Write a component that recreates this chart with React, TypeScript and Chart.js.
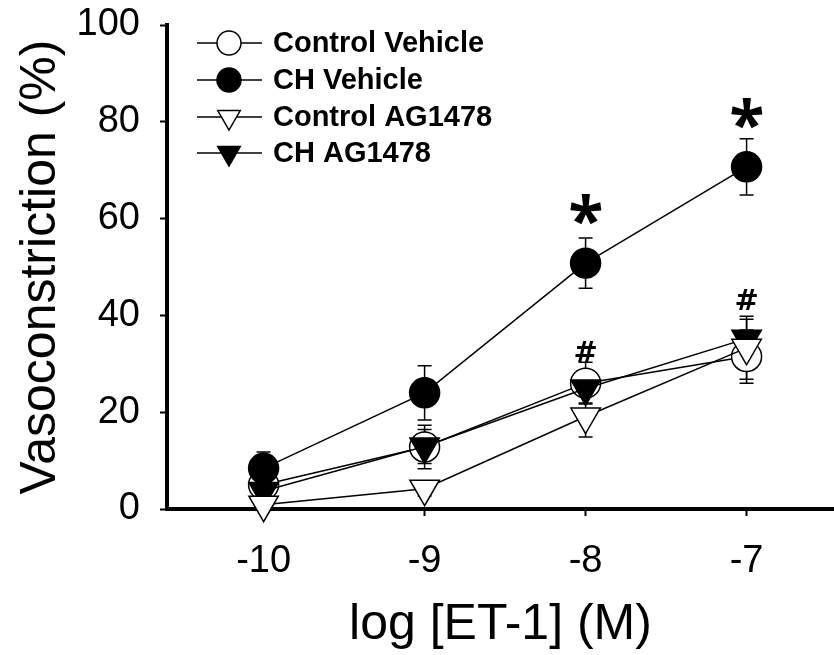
import React, { useEffect, useRef } from "react";
import { Chart, registerables } from "chart.js";

Chart.register(...registerables);

// ---------- data ----------
const doses = [-10, -9, -8, -7];
const xTickValues = [-10, -9, -8, -7];
const yTickValues = [0, 20, 40, 60, 80, 100];

const seriesNames = ["Control Vehicle", "CH Vehicle", "Control AG1478", "CH AG1478"];

const controlVehicle = [5.0, 12.8, 26.0, 31.5];
const controlVehicleSem = [2.0, 4.5, 4.3, 5.5];
const chVehicle = [8.4, 24.0, 50.8, 70.7];
const chVehicleSem = [3.4, 5.6, 5.2, 5.8];
const controlAG1478 = [0.9, 4.2, 19.1, 33.3];
const controlAG1478Sem = [1.0, 1.5, 4.2, 6.5];
const chAG1478 = [3.7, 12.9, 24.9, 35.2];
const chAG1478Sem = [2.0, 3.5, 3.0, 4.0];

const starDoses = [-8, -7];
const starValues = [61.8, 81.8];
const hashDoses = [-8, -7];
const hashValues = [32.6, 43.2];

// ---------- styles ----------
const FONT = "'Liberation Sans', Arial, sans-serif";
const legendStyles = [
  { shape: "circle", fill: "#ffffff" },
  { shape: "circle", fill: "#000000" },
  { shape: "triangle", fill: "#ffffff" },
  { shape: "triangle", fill: "#000000" },
];

function makeDataset(label: string, values: number[], sem: number[], shape: string, fill: string, order: number) {
  return {
    label,
    data: doses.map((d, i) => ({ x: d, y: values[i] })),
    sem,
    borderColor: "#000",
    borderWidth: 1.5,
    backgroundColor: fill,
    pointStyle: shape,
    pointRadius: shape === "circle" ? 15 : 17,
    pointRotation: shape === "triangle" ? 180 : 0,
    pointBackgroundColor: fill,
    pointBorderColor: "#000",
    pointBorderWidth: 1.5,
    pointHoverRadius: shape === "circle" ? 15 : 17,
    fill: false,
    tension: 0,
    order,
    clip: false,
  };
}

const errorBarPlugin = {
  id: "errorBars",
  beforeDatasetsDraw(chart: any) {
    const { ctx, scales } = chart;
    const x = scales.x;
    const y = scales.y;
    ctx.save();
    ctx.strokeStyle = "#000";
    ctx.lineWidth = 1.5;
    chart.data.datasets.forEach((ds: any) => {
      ds.data.forEach((p: any, i: number) => {
        const e = ds.sem[i];
        const px = x.getPixelForValue(p.x);
        const top = y.getPixelForValue(p.y + e);
        const bot = y.getPixelForValue(p.y - e);
        ctx.beginPath();
        ctx.moveTo(px, top);
        ctx.lineTo(px, bot);
        ctx.moveTo(px - 7, top);
        ctx.lineTo(px + 7, top);
        ctx.moveTo(px - 7, bot);
        ctx.lineTo(px + 7, bot);
        ctx.stroke();
      });
    });
    ctx.restore();
  },
};

function drawCentered(ctx: CanvasRenderingContext2D, text: string, cx: number, cy: number) {
  const m = ctx.measureText(text);
  const asc = m.actualBoundingBoxAscent;
  const desc = m.actualBoundingBoxDescent;
  const left = m.actualBoundingBoxLeft;
  const right = m.actualBoundingBoxRight;
  ctx.fillText(text, cx - (right - left) / 2, cy + (asc - desc) / 2);
}

const annotationPlugin = {
  id: "sigMarks",
  afterDatasetsDraw(chart: any) {
    const { ctx, scales } = chart;
    const x = scales.x;
    const y = scales.y;
    ctx.save();
    ctx.fillStyle = "#000";
    ctx.textAlign = "left";
    ctx.textBaseline = "alphabetic";
    ctx.font = "bold 64px 'Noto Sans', sans-serif";
    starDoses.forEach((d, i) => {
      drawCentered(ctx, "*", x.getPixelForValue(d), y.getPixelForValue(starValues[i]));
    });
    ctx.font = "bold 29px 'DejaVu Sans', sans-serif";
    hashDoses.forEach((d, i) => {
      drawCentered(ctx, "#", x.getPixelForValue(d), y.getPixelForValue(hashValues[i]));
    });
    ctx.restore();
  },
};

const legendPlugin = {
  id: "insetLegend",
  afterDraw(chart: any) {
    const ctx = chart.ctx as CanvasRenderingContext2D;
    const rowY = [43, 80, 117, 153];
    const lineX0 = 197;
    const lineX1 = 262;
    const markX = 229;
    const textX = 273;
    ctx.save();
    seriesNames.forEach((name, i) => {
      const yy = rowY[i];
      const st = legendStyles[i];
      ctx.strokeStyle = "#000";
      ctx.lineWidth = 1.5;
      ctx.beginPath();
      ctx.moveTo(lineX0, yy);
      ctx.lineTo(lineX1, yy);
      ctx.stroke();
      ctx.beginPath();
      if (st.shape === "circle") {
        ctx.arc(markX, yy, 12, 0, Math.PI * 2);
      } else {
        const r = 13;
        ctx.moveTo(markX, yy + r);
        ctx.lineTo(markX - r * Math.sin(Math.PI / 3), yy - r / 2);
        ctx.lineTo(markX + r * Math.sin(Math.PI / 3), yy - r / 2);
        ctx.closePath();
      }
      ctx.fillStyle = st.fill;
      ctx.fill();
      ctx.stroke();
      ctx.fillStyle = "#000";
      ctx.font = "bold 29px " + FONT;
      ctx.textAlign = "left";
      ctx.textBaseline = "middle";
      ctx.fillText(name, textX, yy + 1);
    });
    ctx.restore();
  },
};

export default function App() {
  const canvasRef = useRef<HTMLCanvasElement | null>(null);

  useEffect(() => {
    const canvas = canvasRef.current;
    if (!canvas) return;
    const chart = new Chart(canvas, {
      type: "line",
      data: {
        datasets: [
          makeDataset(seriesNames[0], controlVehicle, controlVehicleSem, "circle", "#ffffff", 3),
          makeDataset(seriesNames[1], chVehicle, chVehicleSem, "circle", "#000000", 0),
          makeDataset(seriesNames[2], controlAG1478, controlAG1478Sem, "triangle", "#ffffff", 1),
          makeDataset(seriesNames[3], chAG1478, chAG1478Sem, "triangle", "#000000", 2),
        ] as any,
      },
      options: {
        animation: false,
        responsive: false,
        events: [],
        layout: { autoPadding: false, padding: { top: 25, left: 0, right: 0, bottom: 0 } },
        plugins: {
          legend: { display: false },
          tooltip: { enabled: false },
        },
        scales: {
          x: {
            type: "linear",
            min: -10.6,
            max: -6.457,
            afterBuildTicks: (s: any) => {
              s.ticks = xTickValues.map((v) => ({ value: v }));
            },
            ticks: { font: { family: FONT, size: 38 }, color: "#000", padding: 23 },
            grid: {
              display: true,
              drawOnChartArea: false,
              drawTicks: true,
              tickLength: 7,
              tickWidth: 2,
              tickColor: "#000",
            },
            border: { display: true, color: "#000", width: 4 },
            title: {
              display: true,
              text: "log [ET-1] (M)",
              font: { family: FONT, size: 50 },
              color: "#000",
              padding: { top: 0, bottom: 0 },
            },
            afterFit: (s: any) => {
              s.height = 146;
              s.paddingLeft = 0;
              s.paddingRight = 0;
            },
          },
          y: {
            type: "linear",
            min: 0,
            max: 100,
            afterBuildTicks: (s: any) => {
              s.ticks = yTickValues.map((v) => ({ value: v }));
            },
            ticks: { font: { family: FONT, size: 38 }, color: "#000", padding: 20 },
            grid: {
              display: true,
              drawOnChartArea: false,
              drawTicks: true,
              tickLength: 7,
              tickWidth: 2,
              tickColor: "#000",
            },
            border: { display: true, color: "#000", width: 4 },
            title: {
              display: true,
              text: "Vasoconstriction (%)",
              font: { family: FONT, size: 50 },
              color: "#000",
              padding: { top: 11, bottom: 0 },
            },
            afterFit: (s: any) => {
              s.width = 167;
              s.paddingTop = 0;
              s.paddingBottom = 0;
            },
          },
        },
      } as any,
      plugins: [errorBarPlugin, annotationPlugin, legendPlugin],
    });
    return () => chart.destroy();
  }, []);

  return (
    <div style={{ position: "absolute", left: 0, top: 0, width: 834, height: 655, background: "#fff" }}>
      <canvas ref={canvasRef} width={834} height={655} style={{ width: 834, height: 655, display: "block" }} />
    </div>
  );
}
